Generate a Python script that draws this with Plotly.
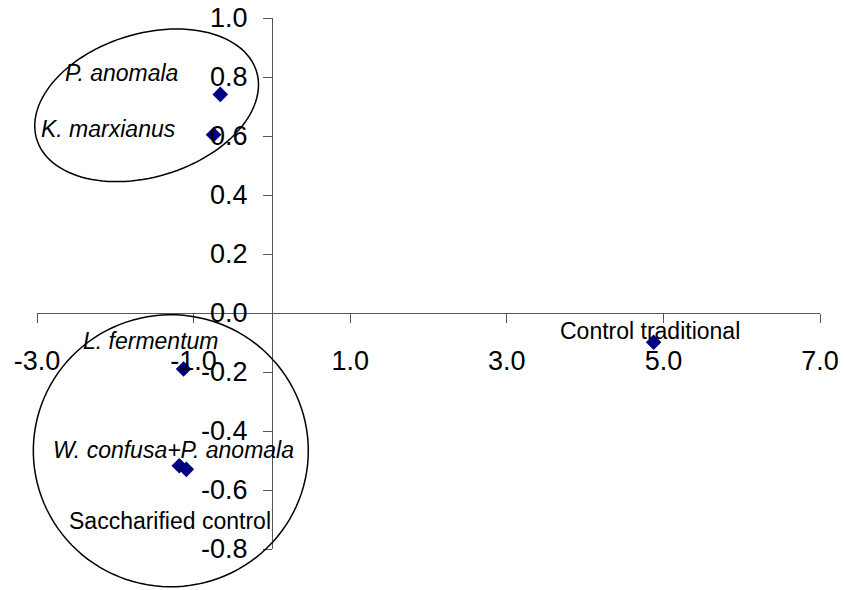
import numpy as np
import plotly.graph_objects as go

# ---- data ----
point_names = ["P. anomala", "K. marxianus", "L. fermentum",
               "W. confusa+P. anomala", "Saccharified control", "Control traditional"]
x_vals = [-0.659, -0.745, -1.128, -1.183, -1.093, 4.875]
y_vals = [0.741, 0.604, -0.190, -0.518, -0.530, -0.099]

x_ticks = [-3, -1, 1, 3, 5, 7]
x_ticktext = ["-3.0", "-1.0", "1.0", "3.0", "5.0", "7.0"]
y_ticks = [-0.8, -0.6, -0.4, -0.2, 0.0, 0.2, 0.4, 0.6, 0.8, 1.0]
y_ticktext = ["-0.8", "-0.6", "-0.4", "-0.2", "0.0", "0.2", "0.4", "0.6", "0.8", "1.0"]

# label texts and their placement (centre of text)
label_texts = ["<i>P. anomala</i>", "<i>K. marxianus</i>", "<i>L. fermentum</i>",
               "<i>W. confusa+P. anomala</i>", "Saccharified control", "Control traditional"]
label_x = [-1.92, -2.085, -1.543, -1.255, -1.298, 4.824]
label_y = [0.815, 0.623, -0.094, -0.466, -0.706, -0.060]

X_RANGE = [-3, 7]
Y_RANGE = [-0.8, 1.0]

# ellipses (centre in data units, semi-axes in pixels, rotation in degrees on screen)
ellipses = [
    dict(cx=-1.60, cy=0.704, a=115.0, b=71.5, rot=-17.2),
    dict(cx=-1.291, cy=-0.467, a=137.5, b=136.0, rot=0.0),
]

W, H = 844, 590
ML, MR, MT, MB = 37, 24, 18, 41
pw, ph = W - ML - MR, H - MT - MB


def to_paper_x(x):
    return (np.asarray(x) - X_RANGE[0]) / (X_RANGE[1] - X_RANGE[0])


def to_paper_y(y):
    return (np.asarray(y) - Y_RANGE[0]) / (Y_RANGE[1] - Y_RANGE[0])


def ellipse_path(e, n=120):
    t = np.linspace(0, 2 * np.pi, n)
    phi = np.deg2rad(e["rot"])
    dx = e["a"] * np.cos(t) * np.cos(phi) - e["b"] * np.sin(t) * np.sin(phi)
    dy = e["a"] * np.cos(t) * np.sin(phi) + e["b"] * np.sin(t) * np.cos(phi)
    px = to_paper_x(e["cx"]) + dx / pw
    py = to_paper_y(e["cy"]) - dy / ph
    pts = " L ".join(f"{a:.5f},{b:.5f}" for a, b in zip(px, py))
    return "M " + pts + " Z"


fig = go.Figure()
fig.add_trace(go.Scatter(
    x=x_vals, y=y_vals, mode="markers",
    marker=dict(symbol="diamond", size=12, color="#000080"),
    cliponaxis=False, showlegend=False, hoverinfo="skip",
))

for e in ellipses:
    fig.add_shape(type="path", path=ellipse_path(e), xref="paper", yref="paper",
                  line=dict(color="black", width=1.5), fillcolor="rgba(0,0,0,0)", layer="above")

for t, lx, ly in zip(label_texts, label_x, label_y):
    fig.add_annotation(x=lx, y=ly, text=t, showarrow=False, xanchor="center", yanchor="middle",
                       font=dict(family="Liberation Sans, Arial", size=23, color="black"))

axis_font = dict(family="Liberation Sans, Arial", size=27, color="black")
fig.update_layout(
    width=W, height=H,
    margin=dict(l=ML, r=MR, t=MT, b=MB, autoexpand=False),
    paper_bgcolor="white", plot_bgcolor="white",
    showlegend=False,
    xaxis=dict(range=X_RANGE, anchor="free",
               position=float(to_paper_y(0.0)),
               tickmode="array", tickvals=x_ticks, ticktext=x_ticktext,
               ticks="outside", ticklen=9, tickcolor="#555555", tickwidth=1,
               showline=True, linecolor="#555555", linewidth=1,
               showgrid=False, zeroline=False, tickfont=axis_font,
               ticklabelstandoff=15, ticklabeloverflow="allow", automargin=False),
    yaxis=dict(range=Y_RANGE, anchor="free",
               position=float(to_paper_x(0.0)),
               tickmode="array", tickvals=y_ticks, ticktext=y_ticktext,
               ticks="outside", ticklen=9, tickcolor="#555555", tickwidth=1,
               showline=True, linecolor="#555555", linewidth=1,
               showgrid=False, zeroline=False, tickfont=axis_font,
               ticklabelstandoff=10, ticklabeloverflow="allow", automargin=False),
)

fig.write_html("out.html", config={"displayModeBar": False},
               post_script="document.body.style.margin='0px';document.body.style.overflow='hidden';")
